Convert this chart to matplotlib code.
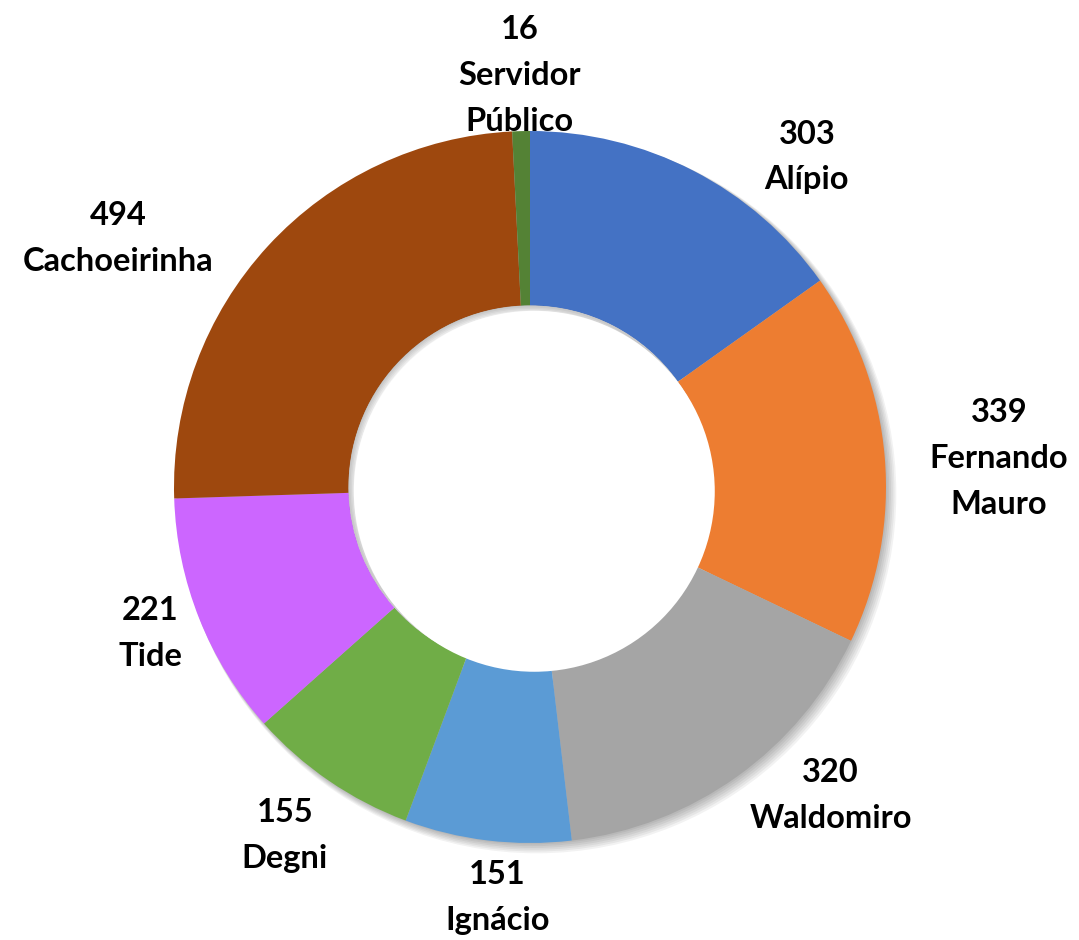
import numpy as np
import matplotlib
matplotlib.use("Agg")
import matplotlib.pyplot as plt
from matplotlib.patches import Wedge

# data, clockwise from 12 o'clock
names = ["Alípio", "Fernando\nMauro", "Waldomiro", "Ignácio", "Degni",
         "Tide", "Cachoeirinha", "Servidor\nPúblico"]
values = [303, 339, 320, 151, 155, 221, 494, 16]
colors = ["#4472C4", "#ED7D31", "#A5A5A5", "#5B9BD5", "#70AD47",
          "#CC66FF", "#9E480E", "#548235"]

# label placement: distance from centre and angle shift from wedge middle
label_r = [1.21, 1.32, 1.21, 1.156, 1.197, 1.143, 1.352, 1.157]
label_shift = [-12.7, -1.4, 8.7, 2.3, -0.7, -0.7, 11.5, 0.0]

fig = plt.figure(figsize=(10.79, 9.4), dpi=100)
ax = fig.add_axes([0, 0, 1, 1])
R = 356.0

hole = 0.51
width = 1 - hole

# soft shadow (offset down-right)
for k in range(6):
    off = 0.004 + 0.003 * k
    ax.add_patch(Wedge((off, -off), 1.0 + 0.002 * k, 0, 360,
                       width=width - 0.004 * k, facecolor="#000000",
                       alpha=0.05, lw=0))

wedges, _ = ax.pie(values, colors=colors, startangle=90, counterclock=False,
                   radius=1.0, wedgeprops=dict(width=width, linewidth=0),
                   frame=False)
ax.set_xlim(-530 / R, (1079 - 530) / R)
ax.set_ylim(-(940 - 487) / R, 487 / R)
ax.set_aspect("auto")
ax.axis("off")

# shadow cast into the hole
ax.add_patch(plt.Circle((0, 0), hole - 0.001, facecolor="white", lw=0, zorder=3))
for k in range(5):
    ax.add_patch(Wedge((0, 0), hole, 0, 360, width=0.006 + 0.004 * k,
                       facecolor="#000000", alpha=0.045, lw=0, zorder=4))
ax.add_patch(plt.Circle((0.012, -0.012), hole - 0.003, facecolor="white",
                        lw=0, zorder=5))

for w, v, n, r, s in zip(wedges, values, names, label_r, label_shift):
    mid = np.deg2rad((w.theta1 + w.theta2) / 2 + s)
    ax.text(r * np.cos(mid), r * np.sin(mid), f"{v}\n{n}", ha="center",
            va="center", multialignment="center", fontsize=23.5,
            fontweight="bold", family="Lato", color="#000000",
            linespacing=1.7, zorder=6)

fig.savefig("out.png", dpi=100)
